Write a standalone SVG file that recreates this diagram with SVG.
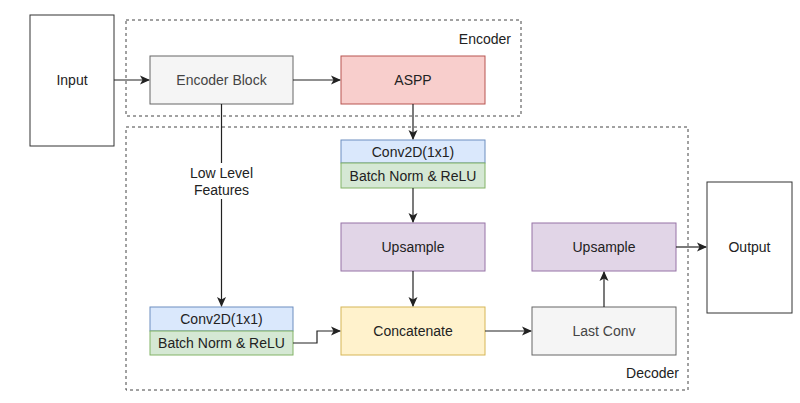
<svg xmlns="http://www.w3.org/2000/svg" width="800" height="403" viewBox="0 0 800 403">
<defs>
<marker id="arr" viewBox="0 0 10 10" refX="9" refY="5" markerWidth="10" markerHeight="10" markerUnits="userSpaceOnUse" orient="auto">
<path d="M0,0.5 L10,5 L0,9.5 L2.5,5 Z" fill="#222"/>
</marker>
</defs>
<style>
text{font-family:"Liberation Sans",Arial,sans-serif;font-size:14px;fill:#222;text-anchor:middle}
.g{fill:#f5f5f5;stroke:#666}
.r{fill:#f8cecc;stroke:#b85450}
.b{fill:#dae8fc;stroke:#6c8ebf}
.gr{fill:#d5e8d4;stroke:#82b366}
.p{fill:#e1d5e7;stroke:#9673a6}
.y{fill:#fff2cc;stroke:#d6b656}
.w{fill:#fff;stroke:#333}
.dash{fill:none;stroke:#444;stroke-dasharray:3 3}
.gt{fill:#444}
.c{fill:none;stroke:#222;stroke-width:1.2}
</style>
<rect width="800" height="403" fill="#fff"/>
<g id="encoder-group"><rect class="dash" x="126" y="20" width="395" height="96"/><text x="511" y="44" style="text-anchor:end">Encoder</text></g>
<g id="decoder-group"><rect class="dash" x="126" y="127" width="562" height="263"/><text x="679" y="378" style="text-anchor:end">Decoder</text></g>
<g id="input"><rect class="w" x="30" y="15" width="84" height="131"/><text x="72" y="85">Input</text></g>
<g id="encoder-block"><rect class="g" x="150" y="56" width="143" height="48"/><text class="gt" x="221.5" y="85">Encoder Block</text></g>
<g id="aspp"><rect class="r" x="341" y="56" width="144" height="48"/><text x="413" y="85">ASPP</text></g>
<g id="conv-aspp"><rect class="b" x="341" y="140" width="144" height="23"/><text x="413" y="156.5">Conv2D(1x1)</text><rect class="gr" x="341" y="163" width="144" height="25"/><text x="413" y="180.5">Batch Norm &amp; ReLU</text></g>
<g id="upsample1"><rect class="p" x="341" y="223" width="144" height="48"/><text x="413" y="252">Upsample</text></g>
<g id="concatenate"><rect class="y" x="341" y="307" width="144" height="48"/><text x="413" y="336">Concatenate</text></g>
<g id="conv-low"><rect class="b" x="150" y="307" width="143" height="24"/><text x="221.5" y="324">Conv2D(1x1)</text><rect class="gr" x="150" y="331" width="143" height="24"/><text x="221.5" y="348">Batch Norm &amp; ReLU</text></g>
<g id="last-conv"><rect class="g" x="532" y="307" width="144" height="48"/><text class="gt" x="604" y="336">Last Conv</text></g>
<g id="upsample2"><rect class="p" x="532" y="223" width="144" height="48"/><text x="604" y="252">Upsample</text></g>
<g id="output"><rect class="w" x="707" y="182" width="85" height="131"/><text x="749.5" y="252">Output</text></g>
<g id="connectors">
<path class="c" d="M114,80 H149" marker-end="url(#arr)"/>
<path class="c" d="M293,80 H340" marker-end="url(#arr)"/>
<path class="c" d="M413,104 V139" marker-end="url(#arr)"/>
<path class="c" d="M413,188 V222" marker-end="url(#arr)"/>
<path class="c" d="M413,271 V306" marker-end="url(#arr)"/>
<path class="c" d="M221.5,104 V163"/>
<path class="c" d="M221.5,199 V306" marker-end="url(#arr)"/>
<text x="221.5" y="178">Low Level</text>
<text x="221.5" y="195">Features</text>
<path class="c" d="M293,343 H317 V331 H340" marker-end="url(#arr)"/>
<path class="c" d="M485,331 H531" marker-end="url(#arr)"/>
<path class="c" d="M604,307 V272" marker-end="url(#arr)"/>
<path class="c" d="M676,247 H706" marker-end="url(#arr)"/>
</g>
</svg>
